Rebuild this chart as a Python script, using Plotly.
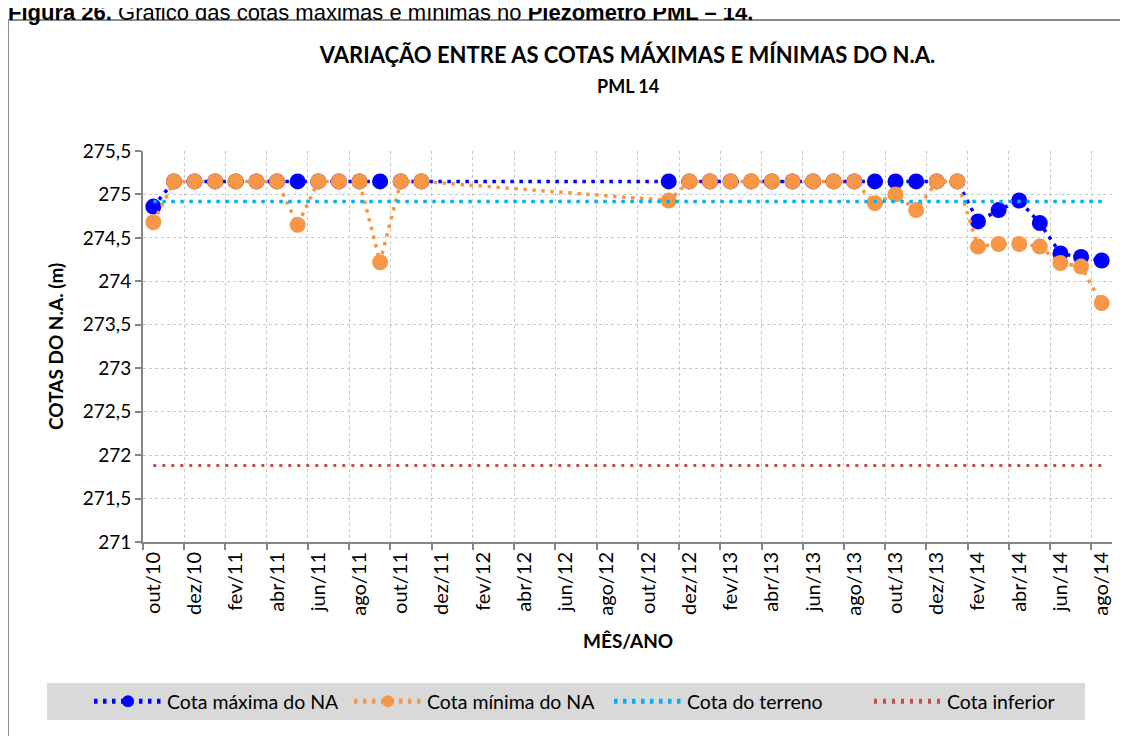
import plotly.graph_objects as go

# ---- data ----
meses = [
    "out/10", "nov/10", "dez/10",
    "jan/11", "fev/11", "mar/11", "abr/11", "mai/11", "jun/11",
    "jul/11", "ago/11", "set/11", "out/11", "nov/11", "dez/11",
    "jan/12", "fev/12", "mar/12", "abr/12", "mai/12", "jun/12",
    "jul/12", "ago/12", "set/12", "out/12", "nov/12", "dez/12",
    "jan/13", "fev/13", "mar/13", "abr/13", "mai/13", "jun/13",
    "jul/13", "ago/13", "set/13", "out/13", "nov/13", "dez/13",
    "jan/14", "fev/14", "mar/14", "abr/14", "mai/14", "jun/14",
    "jul/14", "ago/14",
]

cota_max = [
    274.86,
    275.15, 275.15, 275.15, 275.15, 275.15, 275.15, 275.15,
    275.15, 275.15, 275.15, 275.15, 275.15, 275.15,
    None, None, None, None, None, None, None, None, None, None, None,
    275.15, 275.15, 275.15, 275.15, 275.15, 275.15, 275.15, 275.15,
    275.15, 275.15, 275.15, 275.15, 275.15, 275.15, 275.15,
    274.69, 274.82, 274.93, 274.67, 274.32, 274.28, 274.24,
]

cota_min = [
    274.68,
    275.15, 275.15, 275.15, 275.15, 275.15, 275.15,
    274.65,
    275.15, 275.15, 275.15,
    274.22,
    275.15, 275.15,
    None, None, None, None, None, None, None, None, None, None, None,
    274.93,
    275.15, 275.15, 275.15, 275.15, 275.15, 275.15, 275.15, 275.15, 275.15,
    274.90, 275.00, 274.82,
    275.15, 275.15,
    274.40, 274.43, 274.43, 274.40, 274.21, 274.17, 273.75,
]

cota_terreno = 274.92
cota_inferior = 271.88

y_ticks = [271, 271.5, 272, 272.5, 273, 273.5, 274, 274.5, 275, 275.5]
y_ticktext = [f"{v:g}".replace(".", ",") for v in y_ticks]

# ---- layout geometry (figure pixels; the page adds an 8px body margin) ----
W, H = 1120, 728
PL, PR, PT, PB = 135, 1104, 143, 534          # plot area edges
PW, PHh = PR - PL, PB - PT


def px_x(x):
    return (x - PL) / PW


def px_y(y):
    return (PB - y) / PHh


FONT = "Lato, 'Open Sans', sans-serif"
AXIS_COLOR = "#868686"
GRID_COLOR = "#C8C8C8"

fig = go.Figure()

fig.add_trace(go.Scatter(
    x=meses, y=cota_max, name="Cota máxima do NA",
    mode="lines+markers", connectgaps=True,
    line=dict(color="#0000FF", width=3.5, dash="3.5px,5.5px"),
    marker=dict(size=16, color="#0000FF"),
))
fig.add_trace(go.Scatter(
    x=meses, y=cota_min, name="Cota mínima do NA",
    mode="lines+markers", connectgaps=True,
    line=dict(color="#F79646", width=3.5, dash="3.5px,5.5px"),
    marker=dict(size=16, color="#F79646"),
))
fig.add_trace(go.Scatter(
    x=[meses[0], meses[-1]], y=[cota_terreno, cota_terreno],
    name="Cota do terreno", mode="lines",
    line=dict(color="#00B0F0", width=3.5, dash="3.5px,5.5px"),
))
fig.add_trace(go.Scatter(
    x=[meses[0], meses[-1]], y=[cota_inferior, cota_inferior],
    name="Cota inferior", mode="lines",
    line=dict(color="#C0504D", width=3, dash="3px,6px"),
))

fig.update_layout(
    width=W, height=H,
    paper_bgcolor="white", plot_bgcolor="white",
    font=dict(family=FONT, size=19, color="black"),
    margin=dict(l=PL, r=W - PR, t=PT, b=H - PB, autoexpand=False),
    title=dict(
        text="<b>VARIAÇÃO ENTRE AS COTAS MÁXIMAS E MÍNIMAS DO N.A.</b>",
        x=(PL + PR) / 2 / W, xanchor="center",
        y=1 - 47 / H, yanchor="middle",
        font=dict(family=FONT, size=22, color="black"),
    ),
    showlegend=True,
    legend=dict(
        orientation="h",
        xref="paper", yref="paper",
        x=px_x(81), xanchor="left",
        y=px_y(693.5), yanchor="middle",
        bgcolor="rgba(0,0,0,0)",
        font=dict(family=FONT, size=19.5, color="black"),
        itemsizing="constant",
        itemwidth=68,
        entrywidth=177, entrywidthmode="pixels",
        traceorder="normal",
    ),
)

# second title line
fig.add_annotation(
    text="<b>PML 14</b>", xref="paper", yref="paper",
    x=0.5, y=px_y(78), xanchor="center", yanchor="middle",
    showarrow=False, font=dict(family=FONT, size=18, color="black"),
)

# axis titles
fig.add_annotation(
    text="<b>COTAS DO N.A. (m)</b>", xref="paper", yref="paper",
    x=px_x(47), y=px_y(339), xanchor="center", yanchor="middle",
    textangle=-90, showarrow=False,
    font=dict(family=FONT, size=19, color="black"),
)
fig.add_annotation(
    text="<b>MÊS/ANO</b>", xref="paper", yref="paper",
    x=px_x(620), y=px_y(632), xanchor="center", yanchor="middle",
    showarrow=False, font=dict(family=FONT, size=19, color="black"),
)

# caption at the very top (partly cut off in the reference)
fig.add_annotation(
    text="<b>Figura 26.</b> Gráfico das cotas máximas e mínimas no <b>Piezômetro PML – 14.</b>",
    xref="paper", yref="paper",
    x=px_x(-2), y=px_y(19), xanchor="left", yanchor="bottom",
    showarrow=False,
    font=dict(family="'Liberation Sans', Arial, sans-serif", size=22, color="black"),
)

# outer frame of the chart area
fig.add_shape(
    type="rect", xref="paper", yref="paper",
    x0=px_x(0), x1=px_x(W + 20), y0=px_y(H + 20), y1=px_y(12),
    line=dict(color="#8C8C8C", width=2), fillcolor="rgba(0,0,0,0)",
    layer="below",
)

# grey legend box
fig.add_shape(
    type="rect", xref="paper", yref="paper",
    x0=px_x(39), x1=px_x(1077), y0=px_y(712), y1=px_y(675),
    line=dict(width=0), fillcolor="#D9D9D9", layer="below",
)

fig.update_xaxes(
    type="category", categoryorder="array", categoryarray=meses,
    range=[-0.5, len(meses) - 0.5],
    tickmode="linear", tick0=0, dtick=2,
    tickson="boundaries", tickangle=-90,
    ticks="outside", ticklen=6, tickcolor=AXIS_COLOR, tickwidth=1.5,
    showline=True, linecolor=AXIS_COLOR, linewidth=2,
    showgrid=True, gridcolor=GRID_COLOR, gridwidth=1, griddash="dot",
    tickfont=dict(family=FONT, size=20, color="black"),
)

fig.update_yaxes(
    range=[271, 275.5],
    tickmode="array", tickvals=y_ticks, ticktext=y_ticktext,
    ticks="outside", ticklen=6, tickcolor=AXIS_COLOR, tickwidth=1.5,
    showline=True, linecolor=AXIS_COLOR, linewidth=2,
    showgrid=True, gridcolor=GRID_COLOR, gridwidth=1, griddash="dot",
    zeroline=False,
    tickfont=dict(family=FONT, size=19, color="black"),
)

fig.write_html("out.html")
